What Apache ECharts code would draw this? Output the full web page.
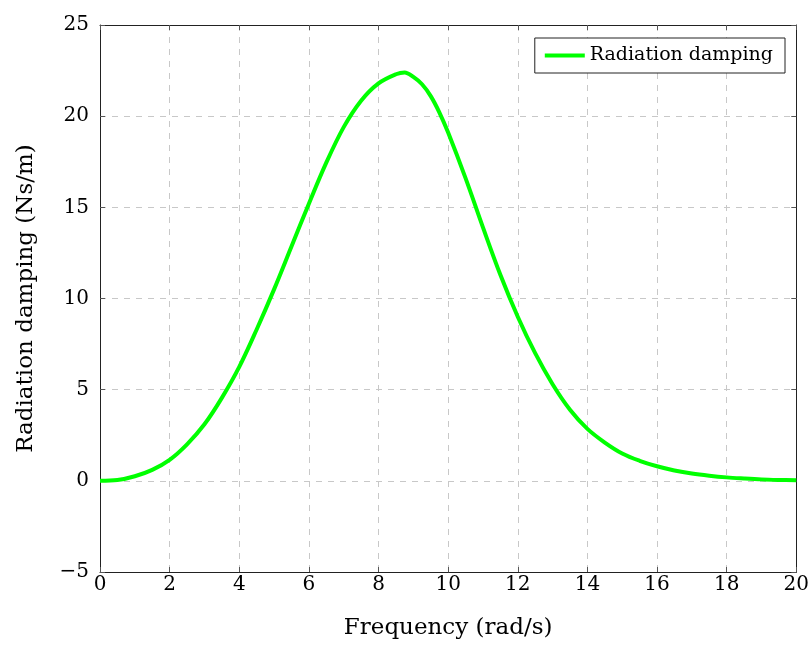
<!DOCTYPE html>
<html><head><meta charset="utf-8">
<script src="https://cdn.jsdelivr.net/npm/echarts@6/dist/echarts.min.js"></script>
<style>html,body{margin:0;padding:0;background:#fff}#c{width:812px;height:645px}</style>
</head><body><div id="c"></div>
<script>
const freq = [0,0.5,1,1.5,2,2.5,3,3.5,4,4.5,5,5.5,6,6.5,7,7.5,8,8.5,8.75,9,9.25,9.5,9.75,10,10.5,11,11.5,12,12.5,13,13.5,14,14.5,15,15.5,16,16.5,17,17.5,18,18.5,19,19.5,20];
const damping = [0,0.04,0.25,0.6,1.15,2.0,3.1,4.55,6.25,8.3,10.5,12.85,15.2,17.45,19.4,20.85,21.8,22.3,22.4,22.15,21.75,21.1,20.2,19.1,16.6,13.9,11.3,9.0,7.0,5.3,3.9,2.85,2.1,1.5,1.1,0.8,0.57,0.4,0.28,0.19,0.13,0.08,0.05,0.03];
const xTicks = {min:0, max:20, interval:2};
const yTicks = {min:-5, max:25, interval:5};
const seriesName = 'Radiation damping';

const font = "'DejaVu Serif', 'Liberation Serif', serif";
const fmt = v => String(v).replace('-', '\u2212');
const chart = echarts.init(document.getElementById('c'), null, {renderer:'canvas'});
const axisCommon = {
  axisLine:{show:true, onZero:false, lineStyle:{color:'#222', width:1}},
  axisTick:{show:true, inside:true, length:5, lineStyle:{color:'#555', width:1}},
};
chart.setOption({
  animation:false,
  backgroundColor:'#fff',
  grid:{left:100, right:13, top:25, bottom:70, containLabel:false},
  legend:{
    show:true, right:27, top:38, orient:'horizontal',
    backgroundColor:'#fff', borderColor:'#222', borderWidth:1, borderRadius:0,
    padding:[8,12,8,10], itemWidth:40, itemHeight:4, itemGap:6,
    textStyle:{fontFamily:font, fontSize:19, color:'#000'},
    icon:'rect',
    data:[{name:seriesName}]
  },
  xAxis:[{
    type:'value', min:xTicks.min, max:xTicks.max, interval:xTicks.interval, position:'bottom',
    name:'Frequency (rad/s)', nameLocation:'middle', nameGap:45,
    nameTextStyle:{fontFamily:font, fontSize:23, color:'#000'},
    axisLabel:{fontFamily:font, fontSize:20, color:'#000', margin:3, formatter:fmt},
    splitLine:{show:true, lineStyle:{color:'#c8c8c8', type:[6,6], width:1}},
    ...axisCommon
  },{
    type:'value', min:xTicks.min, max:xTicks.max, interval:xTicks.interval, position:'top',
    axisLabel:{show:false}, splitLine:{show:false}, ...axisCommon
  }],
  yAxis:[{
    type:'value', min:yTicks.min, max:yTicks.max, interval:yTicks.interval, position:'left',
    name:'Radiation damping (Ns/m)', nameLocation:'middle', nameGap:62, nameRotate:90,
    nameTextStyle:{fontFamily:font, fontSize:23, color:'#000'},
    axisLabel:{fontFamily:font, fontSize:20, color:'#000', margin:11, formatter:fmt},
    splitLine:{show:true, lineStyle:{color:'#c8c8c8', type:[6,6], width:1}},
    ...axisCommon
  },{
    type:'value', min:yTicks.min, max:yTicks.max, interval:yTicks.interval, position:'right',
    axisLabel:{show:false}, splitLine:{show:false}, ...axisCommon
  }],
  series:[{
    name:seriesName, type:'line', smooth:0.35, showSymbol:false, symbol:'none',
    xAxisIndex:0, yAxisIndex:0,
    lineStyle:{color:'#00ff00', width:4}, itemStyle:{color:'#00ff00'},
    data:freq.map((f,i)=>[f, damping[i]])
  }]
});
</script></body></html>
